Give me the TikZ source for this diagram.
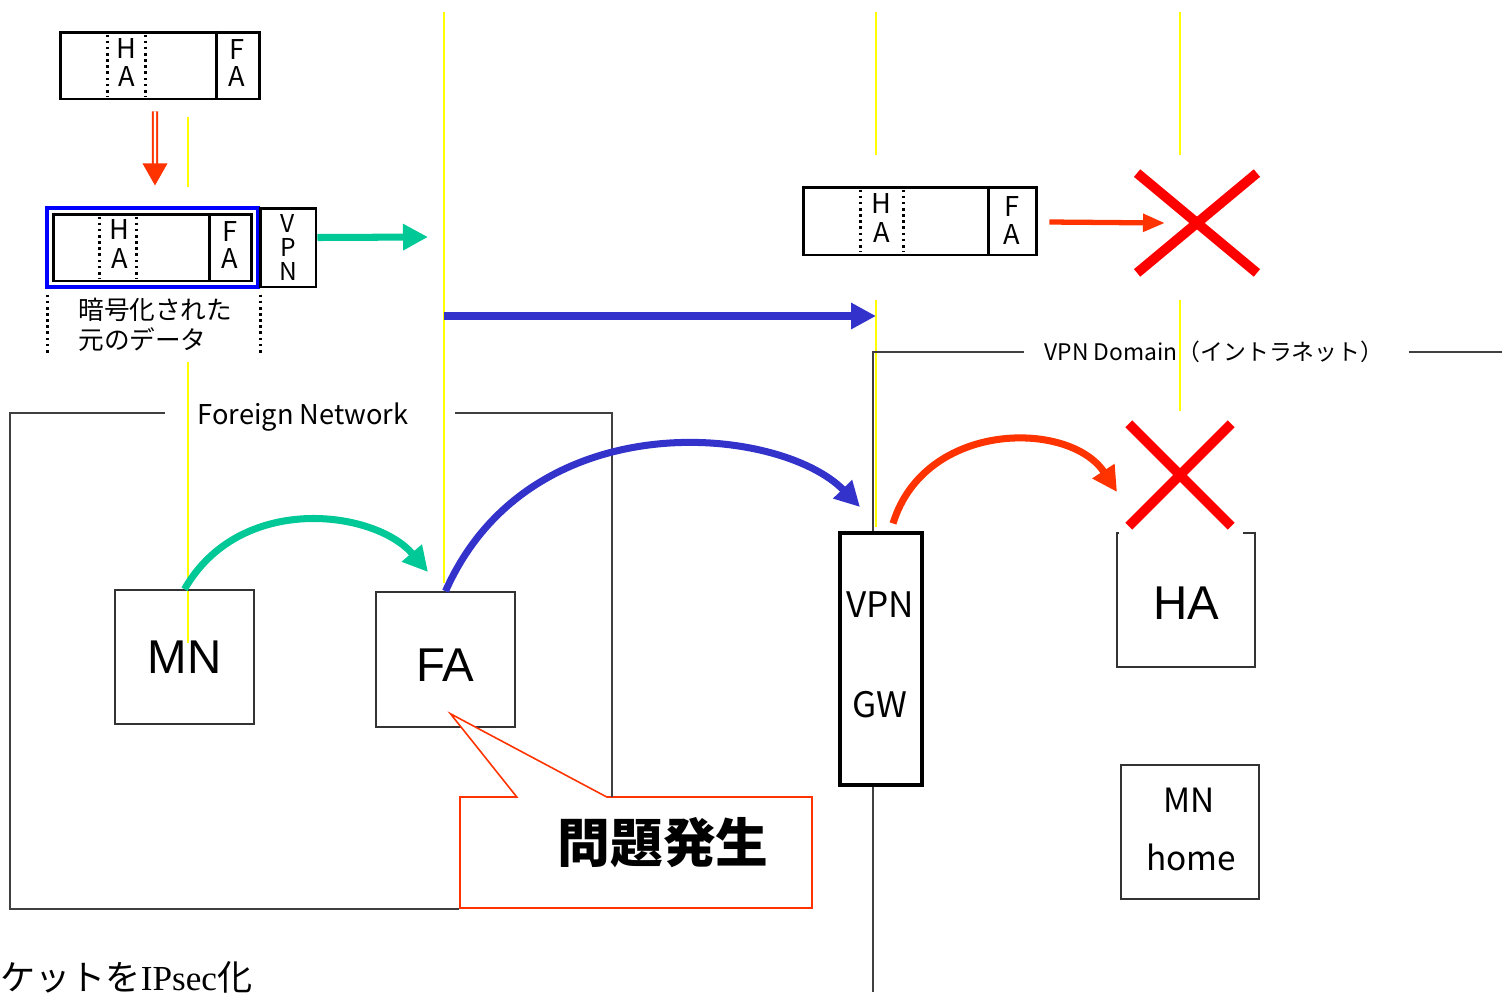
\documentclass[tikz,border=0pt]{standalone}
\usepackage{fontspec}
\setmainfont{Noto Sans CJK JP}
\newfontfamily\arialfont{Liberation Sans}
\newfontfamily\timesfont{Liberation Serif}
\usetikzlibrary{arrows.meta, positioning, calc, shapes.misc, shapes.callouts}

\definecolor{flowgreen}{HTML}{00C896}
\definecolor{flowblue}{HTML}{3333CC}
\definecolor{flowred}{HTML}{FF3300}
\definecolor{crossred}{HTML}{FF0000}
\definecolor{guideyellow}{HTML}{FFFF00}
\definecolor{encblue}{HTML}{0000FF}

\newcommand{\fsz}[1]{\fontsize{#1}{#1}\selectfont}

\begin{document}
\begin{tikzpicture}[
    x=0.02cm, y=-0.02cm,
    pkt/.style={draw, line width=1.7pt, inner sep=0pt},
    dotsep/.style={dotted, line width=1.5pt},
    letter/.style={font=\fsz{15.5}, inner sep=0pt},
    guide/.style={draw=guideyellow, line width=1pt},
    netline/.style={draw=black!75, line width=0.9pt},
    hostbox/.style={
        draw=black!80,
        line width=0.9pt,
        minimum width=2.78cm,
        minimum height=2.68cm,
        inner sep=0pt
    },
    bigname/.style={font=\arialfont\fsz{27}},
    thinname/.style={font=\fsz{20}, inner sep=0pt},
    nogo/.style={cross out, draw=crossred, line width=5.6pt, inner sep=0pt},
    flow/.style={line width=4pt, -{Triangle[length=0.5cm, width=0.5cm]}}
]

\useasboundingbox (0,0) rectangle (1502,992);

% Guide lines
\draw[guide] (188,117) -- (188,187);
\draw[guide] (188,362) -- (188,643);
\draw[guide] (444,12) -- (444,583);
\foreach \gx in {876,1180}
    \draw[guide] (\gx,12) -- (\gx,155);
\draw[guide] (876,300) -- (876,527);
\draw[guide] (1180,300) -- (1180,411);

% Original packet
\node[pkt, minimum width=4cm, minimum height=1.34cm] (pkA) at (160,65.5) {};
\draw[pkt] ($(pkA.north west)+(158,0)$) -- ($(pkA.south west)+(158,0)$);
\foreach \dx in {49,87}
    \draw[dotsep] ($(pkA.north west)+(\dx,4)$) -- ($(pkA.south west)+(\dx,-4)$);
\node[letter] at ($(pkA.north west)+(68,18)$) {H};
\node[letter] at ($(pkA.north west)+(68,46)$) {A};
\node[letter] at ($(pkA.north west)+(178,19)$) {F};
\node[letter] at ($(pkA.north west)+(178,46)$) {A};

% Encapsulated packet
\node[draw=encblue, line width=1.8pt, inner sep=0pt,
      minimum width=4.22cm, minimum height=1.58cm] (pkB) at (152.5,247.5) {};
\node[pkt, minimum width=3.98cm, minimum height=1.34cm] (pkBin) at (152.5,247.5) {};
\draw[pkt] ($(pkBin.north west)+(158,0)$) -- ($(pkBin.south west)+(158,0)$);
\foreach \dx in {48,85}
    \draw[dotsep] ($(pkBin.north west)+(\dx,4)$) -- ($(pkBin.south west)+(\dx,-4)$);
\node[letter] at ($(pkBin.north west)+(68,17)$) {H};
\node[letter] at ($(pkBin.north west)+(68,46)$) {A};
\node[letter] at ($(pkBin.north west)+(178,19)$) {F};
\node[letter] at ($(pkBin.north west)+(178,46)$) {A};
\node[pkt, minimum width=1.12cm, minimum height=1.58cm, align=center,
      font=\fontsize{14}{13.6}\selectfont] (vpnhdr) at (288,247.5) {V\\P\\N};

\draw[dotsep] ($(pkB.south west)+(2,6)$) -- ($(pkB.south west)+(2,65)$);
\draw[dotsep] ($(pkB.south east)+(1,6)$) -- ($(pkB.south east)+(1,65)$);
\node[anchor=west, align=left, inner sep=0pt,
      font=\fontsize{14.6}{17}\selectfont] (enc) at (78,325) {暗号化された\\元のデータ};

% Encapsulation step
\coordinate (rdA) at ($(pkA.south)+(-5,11)$);
\coordinate (rdTip) at ($(pkB.north)+(2.5,-21)$);
\draw[flowred, double=white, double distance=1.4pt, line width=1.1pt]
    (rdA) -- ($(rdTip)+(0,-20)$);
\fill[flowred] ($(rdTip)+(-12.5,-22)$) -- ($(rdTip)+(12.5,-22)$) -- (rdTip) -- cycle;

\coordinate (gTipA) at (428,237);
\draw[flowgreen, flow] ($(vpnhdr.east)+(0,-10)$) -- (gTipA);

\coordinate (blueA) at (444,316);
\coordinate (blueB) at (876,316);
\draw[flowblue, flow] (blueA) -- (blueB);

% Packet at home network
\node[pkt, minimum width=4.68cm, minimum height=1.36cm] (pkC) at (920,221) {};
\draw[pkt] ($(pkC.north west)+(187,0)$) -- ($(pkC.south west)+(187,0)$);
\foreach \dx in {59,102}
    \draw[dotsep] ($(pkC.north west)+(\dx,4)$) -- ($(pkC.south west)+(\dx,-4)$);
\node[letter] at ($(pkC.north west)+(80,18)$) {H};
\node[letter] at ($(pkC.north west)+(80,47)$) {A};
\node[letter] at ($(pkC.north west)+(210,21)$) {F};
\node[letter] at ($(pkC.north west)+(210,49)$) {A};

\node[nogo, minimum width=2.2cm, minimum height=1.8cm] (xA) at (1197,223) {};
\draw[flowred, line width=3pt, -{Triangle[length=0.44cm, width=0.34cm]}]
    ($(pkC.east)+(11,1)$) -- ($(xA.center)+(-32,0)$);

% Foreign network
\node[hostbox] (mn) at (184.5,657) {};
\node[bigname] at (mn.center) {MN};
\node[hostbox, minimum height=2.7cm] (fa) at (445.5,659.5) {};
\node[bigname] at ($(fa.center)+(0,6)$) {FA};
\node[font=\fsz{15.5}, inner sep=0pt] (fnet) at (303,417) {Foreign Network};

% Problem callout
\node[rectangle callout, draw=flowred, line width=0.9pt, fill=white,
      minimum width=7.04cm, minimum height=2.22cm,
      callout absolute pointer={($(fa.south)+(5,-14)$)},
      callout pointer width=1.8cm] (callout) at (636,852.5) {};
\node[font=\bfseries\fsz{30}, inner sep=0pt] (probtxt) at (663,843) {問題発生};

\draw[netline] (165,413) -- (10,413) -- (callout.south west -| 10,413)
    -- (callout.south west);
\draw[netline] (455,413) -- (612,413) -- (612,797);

% VPN domain
\node[draw, line width=1.8pt, inner sep=0pt,
      minimum width=1.64cm, minimum height=5.04cm] (gw) at (881,659) {};
\node[thinname] at (880,605) {VPN};
\node[thinname] at (880,705) {GW};
\node[font=\fsz{13}, inner sep=0pt] (vdom) at (1214,352) {VPN Domain（イントラネット）};
\draw[netline] (vdom.west) ++(-20,0) -- (873,352) -- ($(gw.north)+(-8,0)$);
\draw[netline] (vdom.east) ++(25,0) -- (1502,352);
\draw[netline] ($(gw.south)+(-8,0)$) -- (873,992);

\node[hostbox, minimum width=2.76cm] (ha) at (1186,600) {};
\node[bigname] at ($(ha.center)+(0,3)$) {HA};
\fill[white] (1119,418) rectangle (1243,536);
\node[nogo, minimum width=1.85cm, minimum height=1.85cm] (xB) at (1180,475) {};

\node[hostbox, minimum width=2.76cm] (mnh) at (1190,832) {};
\node[font=\fsz{19}, inner sep=0pt] at (1189,800) {MN};
\node[font=\fsz{19}, inner sep=0pt] at (1191,857) {home};

% Curved flows
\coordinate (gTipB) at (428,572);
\draw[flowgreen, flow] (mn.north) .. controls (240,492) and (375,510) .. (gTipB);
\coordinate (bTip) at (860,507);
\draw[flowblue, flow] (fa.north) .. controls (530,400) and (780,425) .. (bTip);
\coordinate (rStart) at ($(gw.north)+(12,-8)$);
\coordinate (rTip) at (1117,492);
\draw[flowred, flow] (rStart) .. controls (925,420) and (1070,420) .. (rTip);

% Caption
\node[anchor=base west, inner sep=0pt, font=\fsz{20}] (note) at (0,990)
    {ケットを{\timesfont IPsec}化};

\end{tikzpicture}
\end{document}
